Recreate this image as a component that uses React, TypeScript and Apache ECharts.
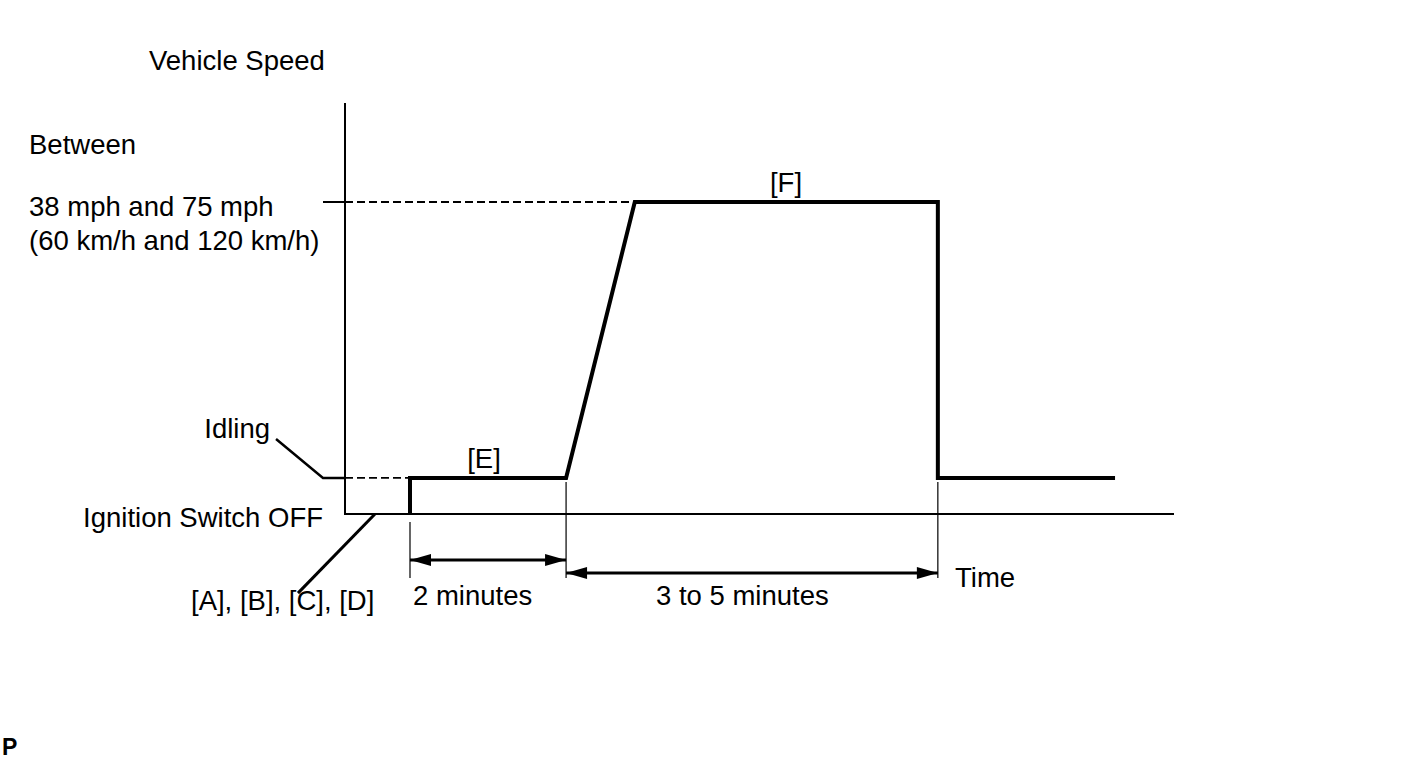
import React, { useEffect, useRef } from "react";
import * as echarts from "echarts";

// Schematic time axis (0–100) and schematic speed axis (0–100)
const TIME_POINTS = [7.85, 7.85, 26.7, 35.0, 71.6, 71.6, 93.0];
const SPEED_POINTS = [0, 8.8, 8.8, 76.1, 76.1, 8.8, 8.8];
const IDLE_SPEED = 8.8;
const TARGET_SPEED = 76.1;
const RAMP_TOP_TIME = 35.0;
const IGNITION_TIME = 7.85;
const IDLE_END_TIME = 26.7;
const HOLD_END_TIME = 71.6;
const AXIS_TIME_END = 100;
const AXIS_SPEED_END = 100;
const DIM_LINE_TOP = [-1.95, 7.8, 7.8];
const DIM_LINE_BOTTOM = -15.6;
const ARROW_ROW_2MIN = -11.2;
const ARROW_ROW_3TO5 = -14.4;
const STUB_START = -2.66;
const IDLING_LEADER = [[-8.33, 18.3], [STUB_START, IDLE_SPEED], [0, IDLE_SPEED]];
const IGNITION_LEADER = [[3.62, 0], [-5.68, -19.3]];

const FONT = '"Liberation Sans", Arial, Helvetica, sans-serif';

function lineSeries(data: number[][], width: number, dashed = false, cap = "butt") {
  return {
    type: "line",
    data,
    symbol: "none",
    clip: false,
    silent: true,
    lineStyle: { color: "#000", width, type: dashed ? [8, 4] : "solid", cap, join: "miter" },
    emphasis: { disabled: true },
  };
}

function arrowSeries(x0: number, x1: number, y: number) {
  return {
    type: "line",
    clip: false,
    silent: true,
    symbol: "triangle",
    symbolSize: [12, 21],
    itemStyle: { color: "#000", borderWidth: 0 },
    lineStyle: { color: "#000", width: 3 },
    emphasis: { disabled: true },
    data: [
      { value: [x0, y], symbolRotate: 90, symbolOffset: [10.5, 0] },
      { value: [x1, y], symbolRotate: -90, symbolOffset: [-10.5, 0] },
    ],
  };
}

function txt(text: string, x: number, y: number, align = "left", size = 27.5, weight = "normal") {
  return {
    type: "text",
    x,
    y,
    silent: true,
    style: {
      text,
      fill: "#000",
      font: `${weight} ${size}px ${FONT}`,
      textAlign: align,
      textVerticalAlign: "middle",
    },
  };
}

export default function App() {
  const ref = useRef<HTMLDivElement>(null);
  useEffect(() => {
    if (!ref.current) return;
    const chart = echarts.init(ref.current, undefined, { renderer: "svg" });
    const dimX = [IGNITION_TIME, IDLE_END_TIME, HOLD_END_TIME];
    const hiddenAxis = {
      type: "value",
      axisLine: { show: false },
      axisTick: { show: false },
      axisLabel: { show: false },
      splitLine: { show: false },
    };
    chart.setOption({
      animation: false,
      backgroundColor: "#fff",
      // 8.28 px per time unit, 4.1 px per speed unit; origin at (345, 514)
      grid: { left: 179.4, top: 104, width: 993.6, height: 512.5, containLabel: false },
      xAxis: { ...hiddenAxis, min: -20, max: 100 },
      yAxis: { ...hiddenAxis, min: -25, max: 100 },
      series: [
        lineSeries([[0, 0], [AXIS_TIME_END, 0]], 2, false, "square"),
        lineSeries([[0, 0], [0, AXIS_SPEED_END]], 2, false, "square"),
        lineSeries([[0, TARGET_SPEED], [RAMP_TOP_TIME, TARGET_SPEED]], 1.8, true),
        lineSeries([[STUB_START, TARGET_SPEED], [0, TARGET_SPEED]], 2),
        lineSeries([[0, IDLE_SPEED], [IGNITION_TIME, IDLE_SPEED]], 1.8, true),
        lineSeries(IDLING_LEADER, 2.5),
        lineSeries(IGNITION_LEADER, 3),
        ...dimX.map((x, i) => lineSeries([[x, DIM_LINE_TOP[i]], [x, DIM_LINE_BOTTOM]], 1.2)),
        arrowSeries(IGNITION_TIME, IDLE_END_TIME, ARROW_ROW_2MIN),
        arrowSeries(IDLE_END_TIME, HOLD_END_TIME, ARROW_ROW_3TO5),
        lineSeries(TIME_POINTS.map((t, i) => [t, SPEED_POINTS[i]]), 4),
      ],
      graphic: [
        txt("Vehicle Speed", 149, 60.5),
        txt("Between", 29, 144.5),
        txt("38 mph and 75 mph", 29, 206.5),
        txt("(60 km/h and 120 km/h)", 29, 240.5),
        txt("Idling", 270, 428.5, "right"),
        txt("Ignition Switch OFF", 323, 517.5, "right"),
        txt("[A], [B], [C], [D]", 191, 600.5),
        txt("[E]", 484, 458.5, "center"),
        txt("[F]", 786, 182.5, "center"),
        txt("2 minutes", 413, 595.5),
        txt("3 to 5 minutes", 656, 595.5),
        txt("Time", 955, 577.5),
        txt("P", 2, 747, "left", 23, "bold"),
      ],
    });
    return () => chart.dispose();
  }, []);
  return (
    <div
      ref={ref}
      style={{ position: "fixed", left: 0, top: 0, width: 1424, height: 759, background: "#fff" }}
    />
  );
}
